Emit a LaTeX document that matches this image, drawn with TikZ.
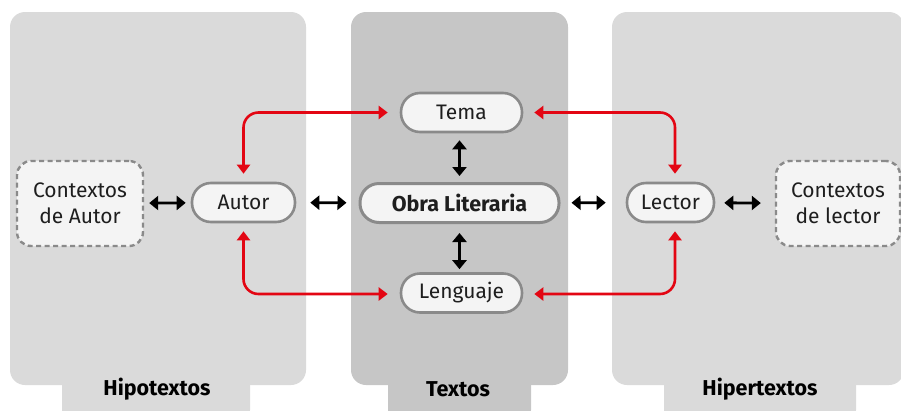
\documentclass[tikz,border=0pt]{standalone}
\usepackage{fontspec}
\setmainfont{Fira Sans}
\usetikzlibrary{arrows.meta,calc}
\definecolor{panelside}{HTML}{DADADA}
\definecolor{panelmid}{HTML}{C6C6C6}
\definecolor{boxfill}{HTML}{F4F4F4}
\definecolor{boxline}{HTML}{8A8A8A}
\definecolor{redline}{HTML}{E30613}
\definecolor{txt}{HTML}{1E1E1E}
\begin{document}
\begin{tikzpicture}[x=1pt,y=-1pt,
  pill/.style={draw=boxline,line width=2.6pt,fill=boxfill,rounded corners=19pt,
    minimum height=39pt,inner sep=0pt,text=txt,font=\fontsize{21}{25}\selectfont},
  ctx/.style={draw=boxline,line width=2.4pt,dash pattern=on 5pt off 3.5pt,fill=boxfill,
    rounded corners=14pt,minimum height=85pt,inner sep=0pt,align=center,text=txt,
    font=\fontsize{21}{26}\selectfont},
  tip/.style={Triangle[length=9pt,width=14pt]},
  blk/.style={{Triangle[length=9pt,width=14pt]}-{Triangle[length=9pt,width=14pt]},line width=2.8pt,black},
  redarr/.style={{Triangle[length=9pt,width=13pt]}-{Triangle[length=9pt,width=13pt]},line width=2.6pt,redline,rounded corners=15pt},
  tablabel/.style={font=\fontsize{21.5}{25}\selectfont\bfseries,text=black}
]
\useasboundingbox (0,0) rectangle (901,410);
% panels
\fill[panelside,rounded corners=15pt] (10,12) rectangle (306,385);
\fill[panelside,rounded corners=15pt] (62,360) rectangle (250,425);
\fill[panelmid,rounded corners=15pt] (351,12) rectangle (568,385);
\fill[panelmid,rounded corners=15pt] (388,360) rectangle (531,425);
\fill[panelside,rounded corners=15pt] (612,12) rectangle (904,385);
\fill[panelside,rounded corners=15pt] (664,360) rectangle (856,425);
\node[tablabel] (lh) at (157,389) {Hipotextos};
\node[tablabel] (lt) at (458,389) {Textos};
\node[tablabel] (lr) at (760,389) {Hipertextos};
% nodes
\node[ctx,minimum width=126pt] (ca) at (80,203.5) {Contextos\\de Autor};
\node[pill,minimum width=103pt] (autor) at (243.5,202.5) {Autor};
\node[pill,minimum width=199pt,line width=3pt,font=\fontsize{21.5}{25}\selectfont\bfseries] (obra) at (459.5,203) {Obra Literaria};
\node[pill,minimum width=121pt] (tema) at (461.5,112.5) {Tema};
\node[pill,minimum width=121pt] (leng) at (461.5,293) {Lenguaje};
\node[pill,minimum width=87pt] (lector) at (670.5,202.5) {Lector};
\node[ctx,minimum width=124pt] (cl) at (838,203.5) {Contextos\\de lector};
% black arrows
\draw[blk,shorten <=5pt,shorten >=5pt] (ca) -- (autor);
\draw[blk,shorten <=14pt,shorten >=12pt] (autor) -- (obra);
\draw[blk,shorten <=11pt,shorten >=20pt] (obra) -- (lector);
\draw[blk,shorten <=9pt,shorten >=14pt] (lector) -- (cl);
\draw[blk,shorten <=7pt,shorten >=6pt] ([xshift=-2pt]tema.south) -- ([xshift=-2pt,yshift=0pt]tema.south |- obra.north);
\draw[blk,shorten <=9pt,shorten >=3pt] ([xshift=-2pt]tema.south |- obra.south) -- ([xshift=-2pt]leng.north);
% red arrows
\draw[redarr] ([yshift=8pt]autor.north) |- ([xshift=-12pt]tema.west);
\draw[redarr] ([yshift=-8pt]autor.south) |- ([xshift=-12pt,yshift=-1pt]leng.west);
\draw[redarr] ([xshift=11pt]tema.east) -| ([xshift=4.5pt,yshift=8pt]lector.north);
\draw[redarr] ([xshift=11pt,yshift=-1pt]leng.east) -| ([xshift=4.5pt,yshift=-8pt]lector.south);
\end{tikzpicture}
\end{document}
